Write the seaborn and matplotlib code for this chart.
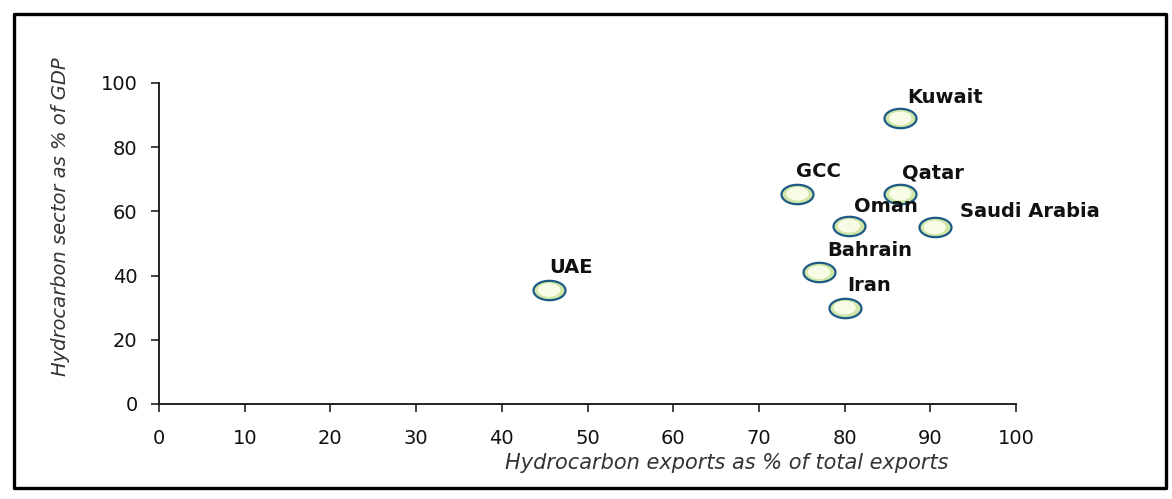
import numpy as np
import pandas as pd
import matplotlib
matplotlib.use("Agg")
import matplotlib.pyplot as plt
from matplotlib.path import Path
from matplotlib.markers import MarkerStyle
from matplotlib.patches import Rectangle
import seaborn as sns

# Hydrocarbon dependence by country
countries = ["Kuwait", "GCC", "Qatar", "Oman", "Saudi Arabia", "Bahrain", "Iran", "UAE"]
export_share = [86.5, 74.5, 86.5, 80.5, 90.5, 77.0, 80.0, 45.5]
gdp_share = [89.0, 65.5, 65.5, 55.5, 55.0, 41.0, 30.0, 35.5]

x_ticks = [0, 10, 20, 30, 40, 50, 60, 70, 80, 90, 100]
y_ticks = [0, 20, 40, 60, 80, 100]

x_title = "Hydrocarbon exports as % of total exports"
y_title = "Hydrocarbon sector as % of GDP"

df = pd.DataFrame({"country": countries, "exports": export_share, "gdp": gdp_share})

sns.set_style("ticks")
plt.rcParams["font.family"] = ["DejaVu Sans"]

fig = plt.figure(figsize=(11.72, 4.99), dpi=100)
ax = fig.add_axes([0.1357, 0.1904, 0.7312, 0.6433])

# oval marker
theta = np.linspace(0, 2 * np.pi, 73)
oval = Path(np.column_stack([1.65 * np.cos(theta), np.sin(theta)]), closed=True)
oval_marker = MarkerStyle(oval)

sns.scatterplot(data=df, x="exports", y="gdp", ax=ax, marker=oval_marker, s=530,
                color="#cfe6a6", edgecolor="#1d5a86", linewidth=1.6, zorder=3)
sns.scatterplot(data=df, x="exports", y="gdp", ax=ax, marker=oval_marker, s=260,
                color="#f8fce6", edgecolor="none", linewidth=0, zorder=4)

# label offsets in points (left edge, vertical centre)
label_offsets = {
    "Kuwait": (5, 15), "GCC": (-1, 16), "Qatar": (1, 15), "Oman": (4, 14),
    "Saudi Arabia": (18, 11.5), "Bahrain": (6, 16), "Iran": (2, 16), "UAE": (0, 16.5),
}
for name, xv, yv in zip(countries, export_share, gdp_share):
    ax.annotate(name, (xv, yv), xytext=label_offsets[name], textcoords="offset points",
                ha="left", va="center", fontsize=14, fontweight="bold",
                color="#111111", zorder=5)

ax.set_xlim(0, 100)
ax.set_ylim(0, 100)
ax.set_xticks(x_ticks)
ax.set_yticks(y_ticks)
ax.set_xticklabels([str(t) for t in x_ticks])
ax.set_yticklabels([str(t) for t in y_ticks])
ax.tick_params(axis="x", length=6, width=1.1, pad=12, labelsize=14,
               color="#111111", labelcolor="#111111")
ax.tick_params(axis="y", length=6, width=1.1, pad=9.5, labelsize=14,
               color="#111111", labelcolor="#111111")

sns.despine(ax=ax)
for side in ("left", "bottom"):
    ax.spines[side].set_linewidth(1.3)
    ax.spines[side].set_color("#111111")

ax.set_xlabel(x_title, fontsize=15, fontstyle="italic", color="#333333")
ax.set_ylabel(y_title, fontsize=14, fontstyle="italic", color="#333333")
ax.xaxis.set_label_coords(0.663, -0.152)
ax.yaxis.set_label_coords(-0.104, 0.585)

# frame around the whole figure
fig.add_artist(Rectangle((14 / 1172, 11 / 499), (1166 - 14) / 1172, (488 - 14) / 499,
                         transform=fig.transFigure, fill=False, edgecolor="black",
                         linewidth=2.4, joinstyle="round"))

fig.savefig("out.png", dpi=100, facecolor="white")
